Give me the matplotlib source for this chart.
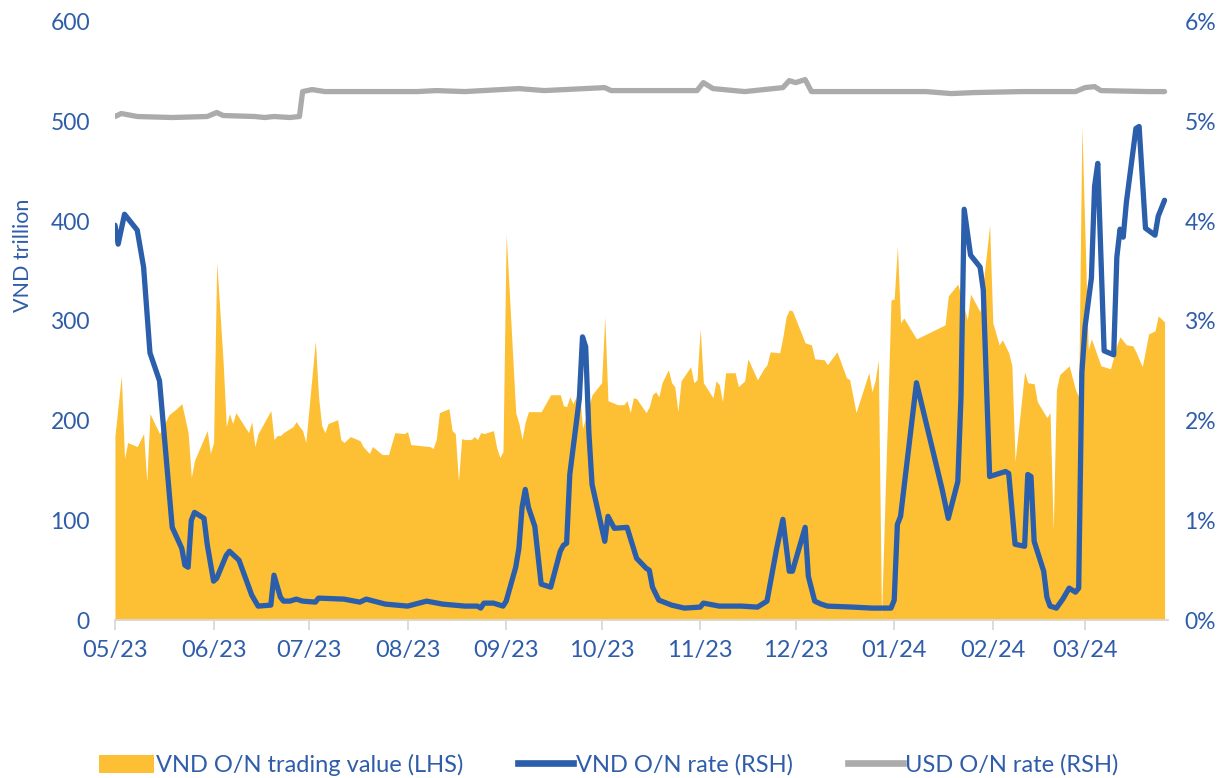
import matplotlib
matplotlib.use("Agg")
import matplotlib.pyplot as plt
import matplotlib.dates as mdates
from matplotlib.patches import Patch
from matplotlib.lines import Line2D
from matplotlib.ticker import FuncFormatter, MultipleLocator
import pandas as pd

# ---------------- data ----------------
val_dates = ['2023-05-01','2023-05-03','2023-05-04','2023-05-05','2023-05-08','2023-05-10','2023-05-11','2023-05-12','2023-05-15','2023-05-18',
 '2023-05-20','2023-05-22','2023-05-24','2023-05-25','2023-05-26','2023-05-30','2023-05-31','2023-06-01','2023-06-02','2023-06-04',
 '2023-06-05','2023-06-06','2023-06-07','2023-06-08','2023-06-12','2023-06-13','2023-06-14','2023-06-15','2023-06-19','2023-06-20',
 '2023-06-21','2023-06-22','2023-06-23','2023-06-25','2023-06-26','2023-06-27','2023-06-28','2023-06-29','2023-06-30','2023-07-03',
 '2023-07-04','2023-07-05','2023-07-06','2023-07-07','2023-07-10','2023-07-11','2023-07-12','2023-07-14','2023-07-17','2023-07-18',
 '2023-07-20','2023-07-21','2023-07-24','2023-07-26','2023-07-28','2023-07-31','2023-08-01','2023-08-02','2023-08-08','2023-08-09',
 '2023-08-10','2023-08-11','2023-08-14','2023-08-15','2023-08-16','2023-08-17','2023-08-18','2023-08-19','2023-08-21','2023-08-22',
 '2023-08-23','2023-08-24','2023-08-25','2023-08-28','2023-08-29','2023-08-30','2023-08-31','2023-09-01','2023-09-04','2023-09-05',
 '2023-09-06','2023-09-07','2023-09-08','2023-09-12','2023-09-15','2023-09-18','2023-09-19','2023-09-20','2023-09-21','2023-09-22',
 '2023-09-24','2023-09-25','2023-09-28','2023-10-01','2023-10-02','2023-10-03','2023-10-06','2023-10-08','2023-10-09','2023-10-10',
 '2023-10-11','2023-10-12','2023-10-15','2023-10-16','2023-10-17','2023-10-18','2023-10-19','2023-10-20','2023-10-22','2023-10-23',
 '2023-10-24','2023-10-25','2023-10-26','2023-10-29','2023-10-30','2023-10-31','2023-11-01','2023-11-02','2023-11-05','2023-11-06',
 '2023-11-07','2023-11-08','2023-11-09','2023-11-12','2023-11-13','2023-11-15','2023-11-16','2023-11-19','2023-11-21','2023-11-22',
 '2023-11-23','2023-11-26','2023-11-27','2023-11-28','2023-11-29','2023-11-30','2023-12-04','2023-12-06','2023-12-07','2023-12-10',
 '2023-12-11','2023-12-14','2023-12-17','2023-12-18','2023-12-20','2023-12-24','2023-12-25','2023-12-26','2023-12-27','2023-12-28',
 '2023-12-31','2024-01-01','2024-01-02','2024-01-03','2024-01-04','2024-01-08','2024-01-17','2024-01-18','2024-01-21','2024-01-24',
 '2024-01-25','2024-01-28','2024-01-31','2024-02-01','2024-02-03','2024-02-04','2024-02-06','2024-02-07','2024-02-08','2024-02-11',
 '2024-02-12','2024-02-14','2024-02-15','2024-02-18','2024-02-19','2024-02-20','2024-02-21','2024-02-22','2024-02-25','2024-02-26',
 '2024-02-27','2024-02-28','2024-02-29','2024-03-02','2024-03-03','2024-03-06','2024-03-09','2024-03-11','2024-03-12','2024-03-14',
 '2024-03-16','2024-03-17','2024-03-19','2024-03-21','2024-03-23','2024-03-24','2024-03-26']
trading_value = [185,245,162,178,174,187,139,207,187,206,
 211,217,188,143,160,190,167,178,359,259,
 194,207,197,208,188,199,174,187,210,181,
 185,185,188,192,194,199,194,190,178,280,
 224,195,188,197,201,181,178,184,180,174,
 167,174,166,166,188,187,189,176,174,172,
 181,208,212,190,187,139,182,181,181,184,
 181,188,187,190,173,163,169,387,208,197,
 181,199,209,209,226,226,215,214,224,217,
 231,192,226,238,304,220,216,216,220,208,
 223,222,208,214,226,229,224,238,251,238,
 234,209,240,254,238,241,292,238,223,240,
 236,219,248,248,234,240,262,241,252,256,
 269,268,284,304,311,310,278,276,262,261,
 256,269,243,241,208,248,229,240,261,3,
 321,322,375,298,303,282,296,325,337,301,
 327,309,396,298,276,281,268,255,159,249,
 238,237,219,203,208,90,231,246,255,243,
 231,224,495,271,282,255,252,276,284,276,
 275,269,254,287,290,305,299]

rate_dates = ['2023-05-01','2023-05-02','2023-05-04','2023-05-08','2023-05-10','2023-05-12','2023-05-15','2023-05-19','2023-05-22','2023-05-23',
 '2023-05-24','2023-05-25','2023-05-26','2023-05-29','2023-05-30','2023-06-01','2023-06-02','2023-06-05','2023-06-06','2023-06-09',
 '2023-06-13','2023-06-15','2023-06-19','2023-06-20','2023-06-22','2023-06-23','2023-06-25','2023-06-27','2023-06-29','2023-07-03',
 '2023-07-04','2023-07-12','2023-07-17','2023-07-19','2023-07-25','2023-08-01','2023-08-07','2023-08-12','2023-08-19','2023-08-23',
 '2023-08-24','2023-08-25','2023-08-28','2023-08-31','2023-09-01','2023-09-04','2023-09-05','2023-09-06','2023-09-07','2023-09-08',
 '2023-09-10','2023-09-12','2023-09-15','2023-09-18','2023-09-19','2023-09-20','2023-09-21','2023-09-24','2023-09-25','2023-09-26',
 '2023-09-27','2023-09-28','2023-10-02','2023-10-03','2023-10-05','2023-10-09','2023-10-12','2023-10-15','2023-10-16','2023-10-17',
 '2023-10-19','2023-10-23','2023-10-27','2023-11-01','2023-11-02','2023-11-07','2023-11-14','2023-11-19','2023-11-22','2023-11-25',
 '2023-11-27','2023-11-29','2023-11-30','2023-12-04','2023-12-05','2023-12-07','2023-12-09','2023-12-11','2023-12-19','2023-12-25',
 '2023-12-31','2024-01-01','2024-01-02','2024-01-03','2024-01-08','2024-01-16','2024-01-18','2024-01-21','2024-01-22','2024-01-23',
 '2024-01-25','2024-01-28','2024-01-29','2024-01-31','2024-02-05','2024-02-06','2024-02-08','2024-02-11','2024-02-12','2024-02-13',
 '2024-02-14','2024-02-17','2024-02-18','2024-02-19','2024-02-21','2024-02-23','2024-02-25','2024-02-27','2024-02-28','2024-02-29',
 '2024-03-01','2024-03-03','2024-03-04','2024-03-05','2024-03-07','2024-03-10','2024-03-11','2024-03-12','2024-03-13','2024-03-14',
 '2024-03-17','2024-03-18','2024-03-20','2024-03-23','2024-03-24','2024-03-26']
vnd_rate = [3.96,3.77,4.07,3.91,3.54,2.68,2.40,0.93,0.72,0.55,
 0.53,1.00,1.08,1.02,0.76,0.39,0.42,0.65,0.69,0.60,
 0.25,0.14,0.15,0.45,0.23,0.19,0.19,0.21,0.19,0.18,
 0.22,0.21,0.18,0.21,0.16,0.14,0.19,0.16,0.14,0.14,
 0.12,0.17,0.17,0.14,0.19,0.53,0.72,1.13,1.31,1.13,
 0.94,0.36,0.33,0.69,0.75,0.77,1.46,2.22,2.84,2.74,
 1.88,1.36,0.79,1.04,0.92,0.93,0.62,0.52,0.50,0.33,
 0.20,0.15,0.12,0.13,0.17,0.14,0.14,0.13,0.19,0.71,
 1.01,0.49,0.49,0.93,0.44,0.19,0.16,0.14,0.13,0.12,
 0.12,0.20,0.96,1.04,2.38,1.32,1.02,1.39,2.24,4.12,
 3.66,3.54,3.31,1.44,1.49,1.47,0.76,0.74,1.46,1.44,
 0.79,0.49,0.23,0.14,0.12,0.21,0.32,0.28,0.32,2.48,
 2.94,3.43,4.35,4.58,2.70,2.66,3.64,3.92,3.84,4.19,
 4.93,4.95,3.93,3.86,4.05,4.21]

usd_dates = ['2023-05-01','2023-05-03','2023-05-08','2023-05-19','2023-05-30','2023-06-02','2023-06-04','2023-06-14','2023-06-17','2023-06-20',
 '2023-06-25','2023-06-28','2023-06-29','2023-07-02','2023-07-06','2023-08-04','2023-08-10','2023-08-19','2023-09-05','2023-09-13',
 '2023-10-02','2023-10-04','2023-10-31','2023-11-02','2023-11-05','2023-11-15','2023-11-27','2023-11-29','2023-12-01','2023-12-04',
 '2023-12-06','2023-12-27','2024-01-11','2024-01-19','2024-01-26','2024-02-10','2024-02-27','2024-03-01','2024-03-04','2024-03-06',
 '2024-03-21','2024-03-26']
usd_rate = [5.05,5.08,5.05,5.04,5.05,5.09,5.06,5.05,5.04,5.05,
 5.04,5.05,5.30,5.32,5.30,5.30,5.31,5.30,5.33,5.31,
 5.34,5.31,5.31,5.39,5.33,5.30,5.34,5.41,5.39,5.42,
 5.30,5.30,5.30,5.28,5.29,5.30,5.30,5.34,5.35,5.31,
 5.30,5.30]

legend_labels = ['VND O/N trading value (LHS)', 'VND O/N rate (RSH)', 'USD O/N rate (RSH)']

# ---------------- style ----------------
YELLOW = '#FDBF33'
BLUE = '#2B5EAB'
GRAY = '#ABABAB'
TXT = '#2F5DA9'
FONT = ['Lato', 'DejaVu Sans']
plt.rcParams['font.family'] = FONT

fig = plt.figure(figsize=(12.27, 7.78), dpi=100)
ax = fig.add_axes([0.0937, 0.203, 0.858, 0.769])
ax2 = ax.twinx()

vd = pd.to_datetime(val_dates)
rd = pd.to_datetime(rate_dates)
ud = pd.to_datetime(usd_dates)

ax.fill_between(vd, trading_value, 0, color=YELLOW, linewidth=0, zorder=1)
ax2.plot(ud, usd_rate, color=GRAY, lw=3.8, solid_joinstyle='round', solid_capstyle='round', zorder=3)
ax2.plot(rd, vnd_rate, color=BLUE, lw=3.8, solid_joinstyle='round', solid_capstyle='round', zorder=4)

ax.set_xlim(pd.Timestamp('2023-05-01'), pd.Timestamp('2024-03-27'))
ax.set_ylim(0, 600)
ax2.set_ylim(0, 6)
ax.yaxis.set_major_locator(MultipleLocator(100))
ax2.yaxis.set_major_locator(MultipleLocator(1))
ax2.yaxis.set_major_formatter(FuncFormatter(lambda v, p: f'{v:.0f}%'))

ax.xaxis.set_major_locator(mdates.MonthLocator())
ax.xaxis.set_major_formatter(mdates.DateFormatter('%m/%y'))

for a in (ax, ax2):
    for s in ('top', 'left', 'right', 'bottom'):
        a.spines[s].set_visible(False)
ax.spines['bottom'].set_visible(True)
ax.spines['bottom'].set_color('#D9D9D9')
ax.spines['bottom'].set_linewidth(1.3)
ax.spines['bottom'].set_zorder(5)

ax.tick_params(axis='x', colors='#D9D9D9', length=7, width=1.3, labelcolor=TXT, labelsize=17, pad=7)
ax.tick_params(axis='y', length=0, labelcolor=TXT, labelsize=16.5, pad=18)
ax2.tick_params(axis='y', length=0, labelcolor=TXT, labelsize=16.5, pad=12)
ax.set_ylabel('VND trillion', color=TXT, fontsize=15.5)
ax.yaxis.set_label_coords(-0.078, 0.609)

ax.set_zorder(1)
ax2.set_zorder(2)
ax2.patch.set_visible(False)

handles = [Patch(facecolor=YELLOW, edgecolor='none'),
           Line2D([0], [0], color=BLUE, lw=4.8),
           Line2D([0], [0], color=GRAY, lw=4.8)]
fig.legend(handles, legend_labels, loc='center', bbox_to_anchor=(0.496, 0.0167), ncol=3,
           frameon=False, fontsize=17, labelcolor=TXT, handlelength=2.33, handleheight=0.8,
           handletextpad=0.1, columnspacing=2.33)

fig.savefig('out.png', dpi=100)
